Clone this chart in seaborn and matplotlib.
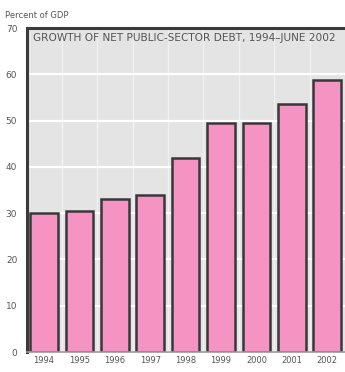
import matplotlib
matplotlib.use("Agg")
import matplotlib.pyplot as plt
import seaborn as sns
import pandas as pd
import numpy as np

years = ["1994", "1995", "1996", "1997", "1998", "1999", "2000", "2001", "2002"]
debt_pct_gdp = [30.0, 30.4, 33.0, 33.9, 41.9, 49.5, 49.5, 53.5, 58.8]
yticks = [0, 10, 20, 30, 40, 50, 60, 70]
title = "GROWTH OF NET PUBLIC-SECTOR DEBT, 1994\u2013JUNE 2002"
ylabel = "Percent of GDP"

sns.set_theme(style="white")
plt.rcParams["font.family"] = ["Liberation Sans Narrow", "DejaVu Sans"]

df = pd.DataFrame({"year": years, "debt": debt_pct_gdp})

fig = plt.figure(figsize=(3.45, 3.72), dpi=100)
ax = fig.add_axes([27 / 345, 20 / 372, 1 - 27 / 345, (352 - 28) / 372])
ax.set_facecolor("#e4e4e4")
ax.set_axisbelow(True)

sns.barplot(data=df, x="year", y="debt", color="#f594c2", saturation=1,
            width=0.78, edgecolor="#383838", linewidth=1.8, ax=ax)

ax.set_ylim(0, 70)
ax.set_xlim(-0.48, len(years) - 0.5)
ax.set_yticks(yticks)
ax.set_yticklabels([str(t) for t in yticks])
ax.yaxis.grid(True, color="white", linewidth=1.6)
ax.set_xticks(np.arange(len(years) - 1) + 0.5, minor=True)
ax.xaxis.grid(True, which="minor", color="white", linewidth=1.0, alpha=0.45)

ax.tick_params(axis="y", direction="in", length=6, width=1.6, color="#333333",
               labelsize=6.5, labelcolor="#555555", pad=7)
ax.tick_params(axis="x", length=0, labelsize=6, labelcolor="#555555", pad=3)
ax.tick_params(axis="x", which="minor", length=0)
ax.set_xlabel("")
ax.set_ylabel("")

for side in ["left", "top"]:
    ax.spines[side].set_visible(True)
    ax.spines[side].set_color("#3a3a3a")
    ax.spines[side].set_linewidth(2.2)
ax.spines["right"].set_visible(False)
ax.spines["bottom"].set_color("#9a9a9a")
ax.spines["bottom"].set_linewidth(1.2)

ax.text(0.02, 0.985, title, transform=ax.transAxes, ha="left", va="top",
        fontsize=7.6, color="#555555")
fig.text(5 / 345, 1 - 16 / 372, ylabel, ha="left", va="center",
         fontsize=6, color="#555555")

fig.savefig("out.png", dpi=100)
